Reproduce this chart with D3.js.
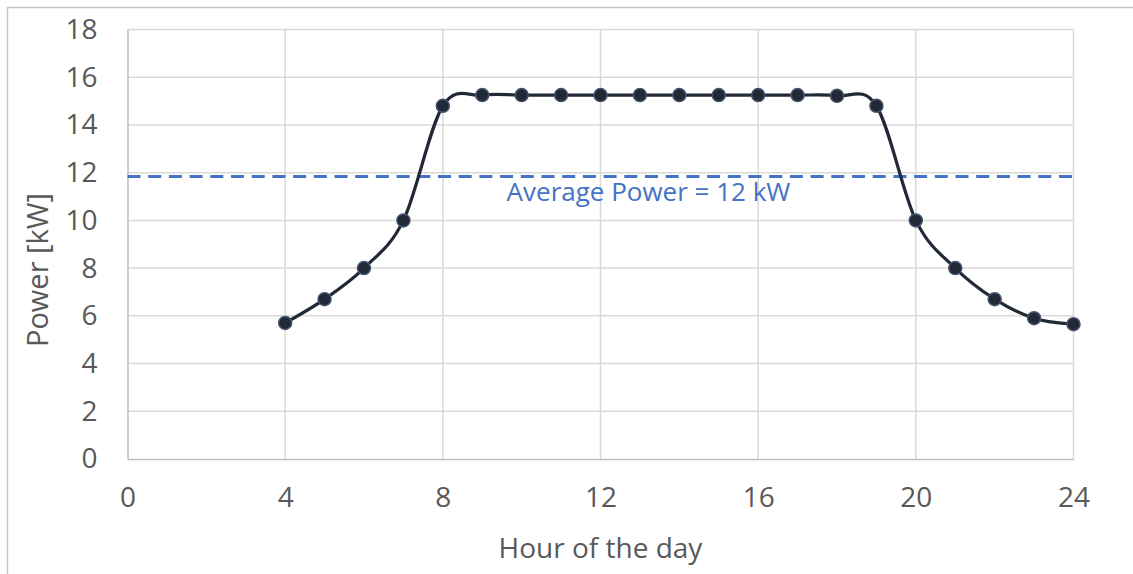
<!DOCTYPE html>
<html>
<head>
<meta charset="utf-8">
<script src="https://cdn.jsdelivr.net/npm/d3@7"></script>
<style>
  body { margin: 0; background: #fff; }
  svg { display: block; font-family: "Open Sans", sans-serif; }
</style>
</head>
<body>
<div id="chart"></div>
<script>
// hours and power readings
const hours = [4, 5, 6, 7, 8, 9, 10, 11, 12, 13, 14, 15, 16, 17, 18, 19, 20, 21, 22, 23, 24];
const power = [5.7, 6.7, 8.0, 10.0, 14.8, 15.25, 15.25, 15.25, 15.25, 15.25, 15.25, 15.25, 15.25, 15.25, 15.22, 14.8, 10.0, 8.0, 6.7, 5.9, 5.65];
const xTicks = [0, 4, 8, 12, 16, 20, 24];
const yTicks = [0, 2, 4, 6, 8, 10, 12, 14, 16, 18];
const averagePower = 11.84;
const averageLabel = "Average Power = 12 kW";

const W = 1133, H = 574;
const margin = { top: 29.5, right: 59.5, bottom: 115, left: 127.5 };
const width = W - margin.left - margin.right,
  height = H - margin.top - margin.bottom;

const svg = d3.select("#chart")
  .append("svg")
  .attr("width", W)
  .attr("height", H);

// outer chart frame (only top and left edges visible)
svg.append("path")
  .attr("d", "M7.5,574 V7.5 H1133")
  .attr("fill", "none")
  .attr("stroke", "#c6c6c6")
  .attr("stroke-width", 1.5);

const g = svg.append("g")
  .attr("transform", `translate(${margin.left},${margin.top})`);

const x = d3.scaleLinear().domain([0, 24]).range([0, width]);
const y = d3.scaleLinear().domain([0, 18]).range([height, 0]);

// grid
g.append("g")
  .selectAll("line")
  .data(yTicks.slice(1))
  .enter()
  .append("line")
  .attr("x1", 0).attr("x2", width)
  .attr("y1", d => y(d)).attr("y2", d => y(d))
  .attr("stroke", "#d9d9d9")
  .attr("stroke-width", 1.5);

g.append("g")
  .selectAll("line")
  .data(xTicks.slice(1))
  .enter()
  .append("line")
  .attr("x1", d => x(d)).attr("x2", d => x(d))
  .attr("y1", 0).attr("y2", height)
  .attr("stroke", "#d9d9d9")
  .attr("stroke-width", 1.5);

// axes
const xAxis = g.append("g")
  .attr("transform", `translate(0,${height})`)
  .call(d3.axisBottom(x).tickValues(xTicks).tickSize(0).tickPadding(28));
xAxis.select(".domain").attr("stroke", "#bfbfbf").attr("stroke-width", 1.5);
xAxis.selectAll("text").attr("font-size", 28).attr("fill", "#595959").attr("font-family", "Open Sans");

const yAxis = g.append("g")
  .call(d3.axisLeft(y).tickValues(yTicks).tickSize(0).tickPadding(30));
yAxis.select(".domain").attr("stroke", "#bfbfbf").attr("stroke-width", 1.5);
yAxis.selectAll("text").attr("font-size", 28).attr("fill", "#595959").attr("font-family", "Open Sans");

// average line
g.append("line")
  .attr("x1", 0).attr("x2", width)
  .attr("y1", y(averagePower)).attr("y2", y(averagePower))
  .attr("stroke", "#4472c4")
  .attr("stroke-width", 3)
  .attr("stroke-dasharray", "13,7.7");

g.append("text")
  .attr("x", 648.5 - margin.left)
  .attr("y", 200.5 - margin.top)
  .attr("text-anchor", "middle")
  .attr("font-size", 26)
  .attr("fill", "#4472c4")
  .text(averageLabel);

// power curve
const data = hours.map((h, i) => ({ h, p: power[i] }));

const line = d3.line()
  .x(d => x(d.h))
  .y(d => y(d.p))
  .curve(d3.curveCatmullRom.alpha(0));

g.append("path")
  .datum(data)
  .attr("fill", "none")
  .attr("stroke", "#212936")
  .attr("stroke-width", 3.2)
  .attr("d", line);

g.selectAll(".dot")
  .data(data)
  .enter()
  .append("circle")
  .attr("class", "dot")
  .attr("cx", d => x(d.h))
  .attr("cy", d => y(d.p))
  .attr("r", 6.5)
  .attr("fill", "#212936")
  .attr("stroke", "#44546a")
  .attr("stroke-width", 1.5);

// axis titles
svg.append("text")
  .attr("x", 600.5)
  .attr("y", 558)
  .attr("text-anchor", "middle")
  .attr("font-size", 28)
  .attr("fill", "#595959")
  .text("Hour of the day");

svg.append("text")
  .attr("transform", "translate(48,270) rotate(-90)")
  .attr("text-anchor", "middle")
  .attr("font-size", 29)
  .attr("fill", "#595959")
  .text("Power [kW]");
</script>
</body>
</html>
